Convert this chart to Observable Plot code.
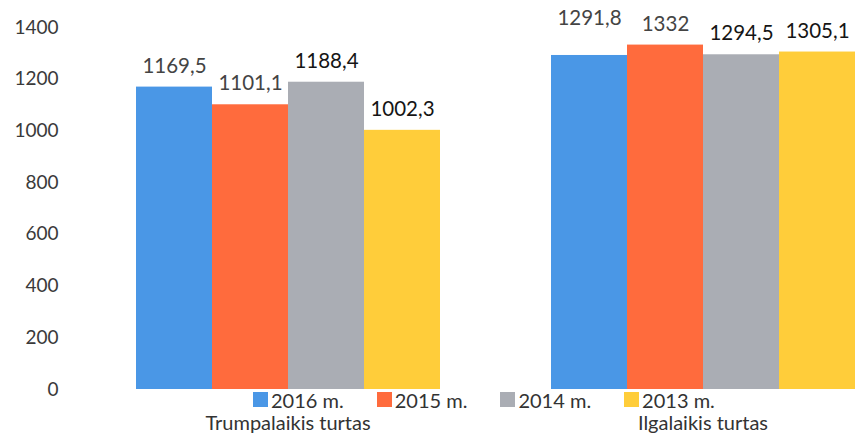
<!DOCTYPE html>
<html>
<head>
<meta charset="utf-8">
<script src="https://cdn.jsdelivr.net/npm/d3@7"></script>
<script src="https://cdn.jsdelivr.net/npm/@observablehq/plot@0.6"></script>
<style>
  html, body { margin: 0; padding: 0; background: #fff; }
  #wrap { position: relative; width: 856px; height: 439px; overflow: hidden; font-family: Lato, "Open Sans", sans-serif; }
  #legend { position: absolute; left: 253px; top: 383px; }
  .lg-swatches-wrap { font-family: Lato, sans-serif; font-size: 20px; color: #333; line-height: 1; }
  .lg-swatch { margin-right: 33px !important; }
  .lg-swatch > svg { margin-right: 3px !important; }
</style>
</head>
<body>
<div id="wrap"><div id="chart"></div><div id="legend"></div></div>
<script>
const categories = ["Trumpalaikis turtas", "Ilgalaikis turtas"];
const series = ["2016 m.", "2015 m.", "2014 m.", "2013 m."];
const trumpalaikis = [1169.5, 1101.1, 1188.4, 1002.3];
const ilgalaikis = [1291.8, 1332, 1294.5, 1305.1];
const yTicks = [0, 200, 400, 600, 800, 1000, 1200, 1400];
const colors = ["#4A97E6", "#FF6B3D", "#AAADB4", "#FFCD3A"];

const valuesByCategory = [trumpalaikis, ilgalaikis];
const data = categories.flatMap((c, i) =>
  series.map((s, j) => ({category: c, series: s, value: valuesByCategory[i][j]}))
);
const fmt = v => String(v).replace(".", ",");
const darkSeries = new Set(["2014 m.", "2013 m."]);
const isLifted = d => d.category === "Ilgalaikis turtas" && d.series === "2016 m.";

const chart = Plot.plot({
  width: 856,
  height: 439,
  marginLeft: 135,
  marginRight: 0,
  marginTop: 27,
  marginBottom: 50,
  style: {fontFamily: "Lato, sans-serif", background: "#fff", overflow: "visible"},
  fx: {domain: categories, paddingInner: 0.265, paddingOuter: 0, label: null},
  x: {domain: series, padding: 0, axis: null},
  y: {domain: [0, 1400], ticks: yTicks, label: null},
  color: {domain: series, range: colors},
  marks: [
    Plot.axisY({ticks: yTicks, tickFormat: d => String(d), tickSize: 0, tickPadding: 77, label: null, fontSize: 19, fill: "#3a3a3a"}),
    Plot.axisFx({anchor: "bottom", tickSize: 0, tickPadding: 26, label: null, fontSize: 20, fill: "#333"}),
    Plot.barY(data, {fx: "category", x: "series", y: "value", fill: "series"}),
    Plot.text(data.filter(d => !isLifted(d)), {
      fx: "category", x: "series", y: "value", text: d => fmt(d.value),
      lineAnchor: "middle", dy: -21, fontSize: 20.5,
      fill: d => darkSeries.has(d.series) ? "#151515" : "#444"
    }),
    Plot.text(data.filter(isLifted), {
      fx: "category", x: "series", y: "value", text: d => fmt(d.value),
      lineAnchor: "middle", dy: -37, fontSize: 20.5, fill: "#444"
    })
  ]
});
document.getElementById("chart").append(chart);

const legend = chart.legend("color", {className: "lg", swatchSize: 15});
document.getElementById("legend").append(legend);
</script>
</body>
</html>
